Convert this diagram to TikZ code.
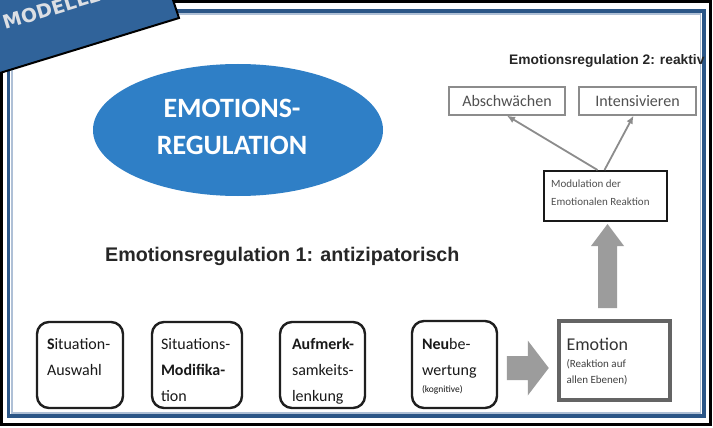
\documentclass[tikz,border=0pt]{standalone}
\usepackage{fontspec}
\setmainfont{Carlito}
\newfontfamily\titlefont{Liberation Sans}
\newfontfamily\bannerfont{DejaVu Sans}
\usetikzlibrary{shapes.geometric,arrows.meta,calc}

\definecolor{bannerblue}{HTML}{30639A}
\definecolor{frameblue}{HTML}{2B5687}
\definecolor{framelight}{HTML}{AFC0D6}
\definecolor{ellblue}{HTML}{2F7FC6}
\definecolor{bannertxt}{HTML}{DCDFE4}
\definecolor{titlegray}{HTML}{262626}
\definecolor{thingray}{HTML}{8C8C8C}
\definecolor{softtext}{HTML}{505050}
\definecolor{blockgray}{HTML}{9C9C9C}
\definecolor{emoframe}{HTML}{646464}

\begin{document}
\begin{tikzpicture}[x=1pt,y=-1pt,
  roundbox/.style={draw=black!88, line width=2.4pt, rounded corners=12pt,
    minimum width=86pt, minimum height=86pt, inner sep=0pt},
  boxtext/.style={anchor=north west, align=left, inner sep=0pt,
    text=black!90, font=\fontsize{16}{26}\selectfont},
  lightbox/.style={draw=thingray, line width=1.4pt, inner sep=0pt,
    text=softtext, font=\fontsize{16}{18}\selectfont},
  title/.style={anchor=base west, inner sep=0pt, text=titlegray},
  grayarrow/.style={draw=thingray, line width=1.8pt,
    -{Latex[length=8pt,width=7pt]}},
  blockarrow/.style={fill=blockgray, draw=none}
]
\useasboundingbox (0,0) rectangle (713,428);
\clip (0,0) rectangle (713,428);
\fill[white] (0,0) rectangle (713,428);

% outer black border and blue frame
\draw[black, line width=3pt] (1.5,1.5) rectangle (710.5,424.5);
\draw[framelight, line width=1.5pt] (11.8,14.2) rectangle (700.7,412.8);
\draw[frameblue, line width=3.4pt] (8.5,11) rectangle (704,416);

% big ellipse
\node[ellipse, fill=ellblue, minimum width=290pt, minimum height=132pt,
  inner sep=0pt] (ell) at (238,130) {};
\node[align=center, inner sep=0pt, text=white,
  font=\bfseries\fontsize{28}{37}\selectfont] (elltext) at (232,127)
  {EMOTIONS-\\REGULATION};

% section titles
\node[title, font=\titlefont\bfseries\fontsize{19.7}{22}\selectfont]
  (title1) at (105,261) {Emotionsregulation 1: antizipatorisch};
\node[title, font=\titlefont\bfseries\fontsize{13.8}{16}\selectfont]
  (title2) at (509,65) {Emotionsregulation 2: reaktiv};

% reactive branch
\node[lightbox, minimum width=116pt, minimum height=28pt] (absch) at (507,101) {Abschwächen};
\node[lightbox, minimum width=117pt, minimum height=28pt] (intens) at (637.5,101) {Intensivieren};
\node[draw=black!90, line width=2pt, minimum width=123pt, minimum height=50pt,
  inner sep=0pt] (mod) at (605.5,196) {};
\node[anchor=north west, align=left, inner sep=0pt, text=softtext,
  font=\fontsize{11}{18}\selectfont] (modtext) at ([shift={(8,10)}]mod.north west)
  {Modulation der\\Emotionalen Reaktion};
\draw[grayarrow] ([xshift=-8pt]mod.north) -- (absch.south);
\draw[grayarrow] ([xshift=-1pt]mod.north) -- ([xshift=-4pt]intens.south);

% emotion box
\node[draw=emoframe, line width=3.4pt, minimum width=111pt, minimum height=79pt,
  inner sep=0pt] (emo) at (614.5,360.5) {};
\node[anchor=base west, inner sep=0pt, text=black!80,
  font=\fontsize{18}{20}\selectfont] (emotext) at ([shift={(9,31)}]emo.north west) {Emotion};
\node[anchor=north west, align=left, inner sep=0pt, text=black!75,
  font=\fontsize{11}{16}\selectfont] (emosub) at ([shift={(9,40)}]emo.north west)
  {(Reaktion auf\\allen Ebenen)};

% anticipatory strategies
\node[roundbox] (b1) at (80,365) {};
\node[roundbox, minimum width=90pt] (b2) at (197,365) {};
\node[roundbox, minimum width=85pt] (b3) at (322.5,365) {};
\node[roundbox, minimum width=85pt, minimum height=87pt] (b4) at (454.5,364.5) {};
\node[boxtext] (t1) at ([shift={(11,17)}]b1.north west)
  {\textbf{S}ituation-\\Auswahl};
\node[boxtext] (t2) at ([shift={(10,17)}]b2.north west)
  {Situations-\\\textbf{Modifika-}\\tion};
\node[boxtext] (t3) at ([shift={(13,17)}]b3.north west)
  {\textbf{Aufmerk-}\\samkeits-\\lenkung};
\node[boxtext] (t4) at ([shift={(11,18)}]b4.north west)
  {\textbf{Neu}be-\\wertung\\[-9pt]{\fontsize{9.5}{10}\selectfont(kognitive)}};

% block arrows
\coordinate (hc) at ($(b4.east)!0.5!(emo.west)+(0,5.5)$);
\fill[blockarrow] (hc) ++(-21,-12) -- ++(21,0) -- ++(0,-15.5) -- ++(21,27.5)
  -- ++(-21,27.5) -- ++(0,-15.5) -- ++(-21,0) -- cycle;
\coordinate (vc) at ([xshift=2pt]mod.south);
\fill[blockarrow] (vc) ++(0,2) -- ++(16.5,22) -- ++(-7,0) -- ++(0,62)
  -- ++(-19,0) -- ++(0,-62) -- ++(-7,0) -- cycle;

% corner banner
\fill[bannerblue] (-5,-5) -- (171.3,-5) -- (179,18) -- (-5,74.5) -- cycle;
\draw[black, line width=2pt] (171.3,-5) -- (179,18) -- (-5,74.5);
\node[anchor=base west, inner sep=0pt, rotate=17, text=bannertxt,
  font=\bannerfont\bfseries\fontsize{19}{21}\selectfont] (banner) at (5,30) {MODELLE};
\end{tikzpicture}
\end{document}
